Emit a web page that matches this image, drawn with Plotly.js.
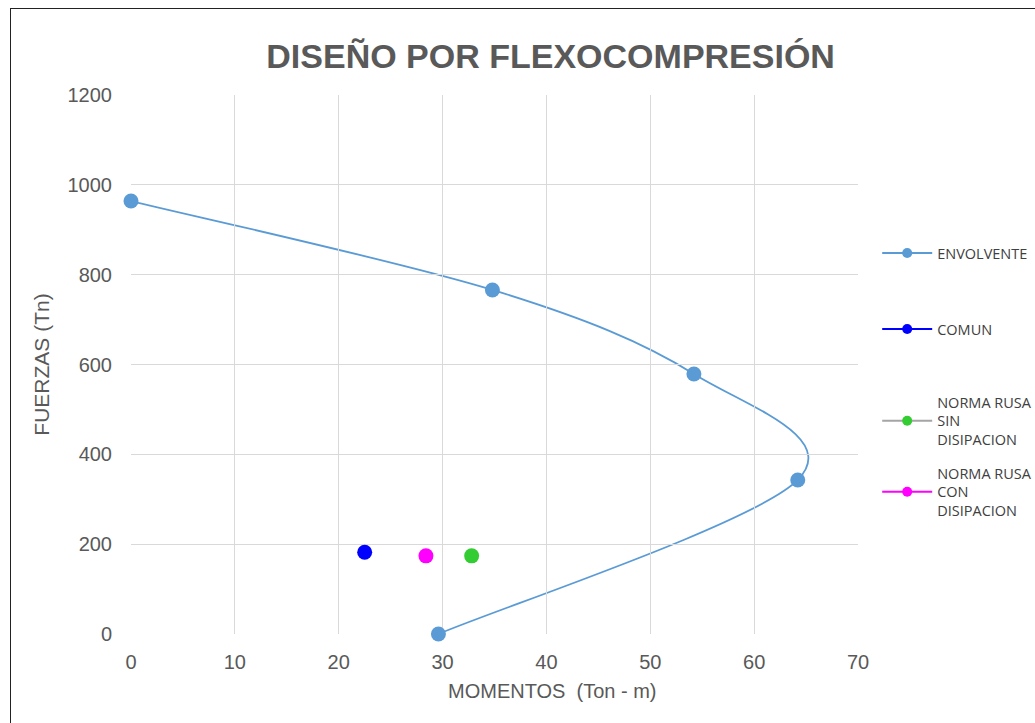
<!DOCTYPE html>
<html>
<head>
<meta charset="utf-8">
<script src="https://cdn.plot.ly/plotly-3.0.1.min.js"></script>
<style>
html,body{margin:0;padding:0;background:#fff;}
#frame{position:absolute;left:10px;top:8px;width:1040px;height:730px;border:1.5px solid #222;box-sizing:border-box;pointer-events:none;z-index:10;}
#chart{position:absolute;left:0;top:0;width:1035px;height:723px;}
</style>
</head>
<body>
<div id="chart"></div>
<div id="frame"></div>
<script>
// Envolvente (interaction curve)
const envMoments = [0, 34.8, 54.2, 64.2, 29.6];
const envForces  = [964, 766, 579, 343, 0];
// Design points
const comunM = [22.5], comunP = [182];
const sinM = [32.8], sinP = [174];
const conM = [28.4], conP = [174];

const seriesNames = ['ENVOLVENTE', 'COMUN', 'NORMA RUSA<br>SIN<br>DISIPACION', 'NORMA RUSA<br>CON<br>DISIPACION'];
const xTicks = [0, 10, 20, 30, 40, 50, 60, 70];
const yTicks = [0, 200, 400, 600, 800, 1000, 1200];

const envColor = '#5b9bd5';
const lineColors = [envColor, '#0000ff', '#a5a5a5', '#ff00ff'];
const markerColors = [envColor, '#0000ff', '#33cc33', '#ff00ff'];

// Smoothed line (Excel-style Catmull-Rom Bezier) through the data points, in data coordinates
function smoothPath(xs, ys) {
  const n = xs.length;
  const P = i => [xs[Math.max(0, Math.min(n - 1, i))], ys[Math.max(0, Math.min(n - 1, i))]];
  let d = 'M' + xs[0] + ',' + ys[0];
  for (let i = 0; i < n - 1; i++) {
    const p0 = P(i - 1), p1 = P(i), p2 = P(i + 1), p3 = P(i + 2);
    const c1 = [p1[0] + (p2[0] - p0[0]) / 6, p1[1] + (p2[1] - p0[1]) / 6];
    const c2 = [p2[0] - (p3[0] - p1[0]) / 6, p2[1] - (p3[1] - p1[1]) / 6];
    d += ' C' + c1[0] + ',' + c1[1] + ' ' + c2[0] + ',' + c2[1] + ' ' + p2[0] + ',' + p2[1];
  }
  return d;
}

const traces = [
  {x: envMoments, y: envForces, mode: 'markers', showlegend: false,
   marker: {color: envColor, size: 15}, cliponaxis: false},
  {x: comunM, y: comunP, mode: 'markers', showlegend: false,
   marker: {color: markerColors[1], size: 15}, cliponaxis: false},
  {x: sinM, y: sinP, mode: 'markers', showlegend: false,
   marker: {color: markerColors[2], size: 15}, cliponaxis: false},
  {x: conM, y: conP, mode: 'markers', showlegend: false,
   marker: {color: markerColors[3], size: 15}, cliponaxis: false}
];
// legend entries (line + marker symbols)
const legendIds = ['legend', 'legend2', 'legend3', 'legend4'];
seriesNames.forEach((nm, i) => {
  traces.push({x: [null], y: [null], name: nm, mode: 'lines+markers', showlegend: true, legend: legendIds[i],
               line: {color: lineColors[i], width: 2}, marker: {color: markerColors[i], size: 10}, hoverinfo: 'skip'});
});

const legFont = {family: 'Open Sans, Calibri, sans-serif', size: 14.5, color: '#404040'};
function leg(y){ return {x: 1.0264, xanchor: 'left', y: y, yanchor: 'middle', font: legFont, bgcolor: 'rgba(0,0,0,0)',
                         itemwidth: 50, tracegroupgap: 0}; }
function py(p){ return (634 - p) / 539; }

const axFont = {family: 'Liberation Sans, Arial, sans-serif', size: 20, color: '#595959'};

const layout = {
  width: 1035, height: 723,
  margin: {l: 131, r: 177, t: 95, b: 89, autoexpand: false},
  paper_bgcolor: '#ffffff', plot_bgcolor: '#ffffff',
  title: {text: '<b>DISEÑO POR FLEXOCOMPRESIÓN</b>', x: 0.532, xanchor: 'center', y: 0.922, yanchor: 'middle',
          font: {family: 'Liberation Sans, Arial, sans-serif', size: 34, color: '#595959'}},
  xaxis: {range: [0, 70], tickvals: xTicks, showgrid: true, gridcolor: '#d9d9d9', gridwidth: 1.3,
          zeroline: false, showline: false, ticks: 'outside', ticklen: 10, tickcolor: 'rgba(0,0,0,0)',
          tickfont: axFont, automargin: false},
  yaxis: {range: [0, 1200], tickvals: yTicks, showgrid: true, gridcolor: '#d9d9d9', gridwidth: 1.3,
          zeroline: false, showline: false, ticks: 'outside', ticklen: 14, tickcolor: 'rgba(0,0,0,0)',
          tickfont: axFont, automargin: false,
          title: {text: 'FUERZAS (Tn)', standoff: 12, font: {family: 'Liberation Sans, Arial, sans-serif', size: 21, color: '#595959'}}},
  shapes: [
    {type: 'path', xref: 'x', yref: 'y', path: smoothPath(envMoments, envForces),
     line: {color: envColor, width: 1.8}, fillcolor: 'rgba(0,0,0,0)', layer: 'below'}
  ],
  annotations: [
    {text: 'MOMENTOS  (Ton - m)', xref: 'paper', yref: 'paper', x: (552 - 131) / 727, y: (634 - 691) / 539,
     xanchor: 'center', yanchor: 'middle', showarrow: false, font: axFont}
  ],
  showlegend: true,
  legend: leg(py(253)),
  legend2: leg(py(329)),
  legend3: leg(py(421)),
  legend4: leg(py(492))
};

Plotly.newPlot('chart', traces, layout, {displayModeBar: false, responsive: false});
</script>
</body>
</html>
